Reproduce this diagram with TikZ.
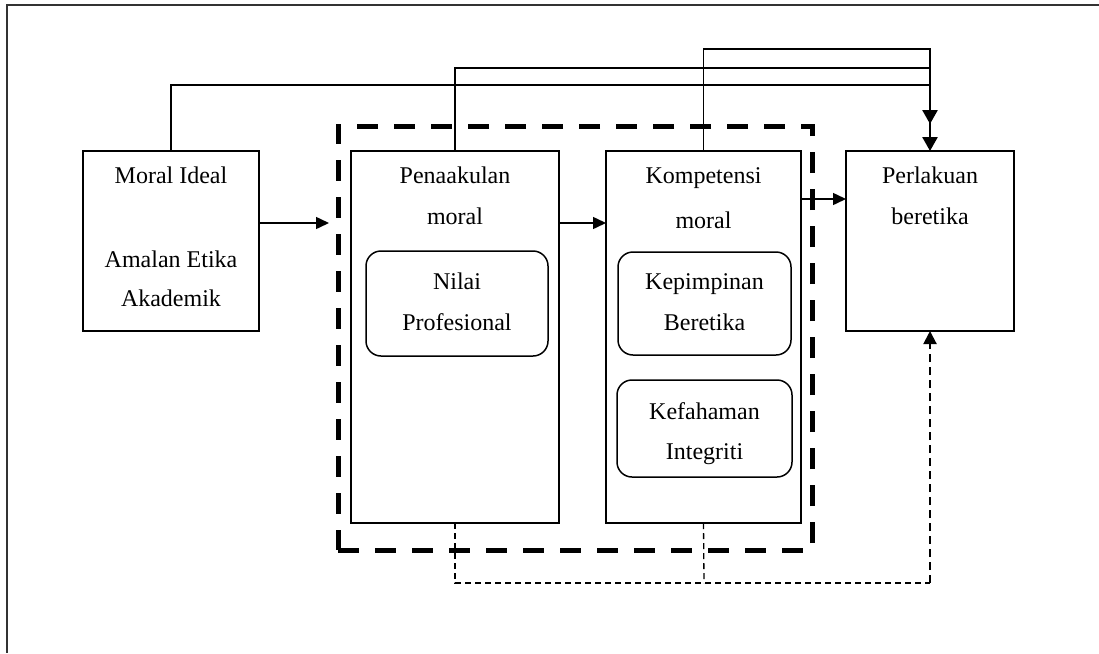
\documentclass[tikz,border=0pt]{standalone}
\usepackage{fontspec}
\setmainfont{Liberation Serif}
\usetikzlibrary{arrows.meta}
\begin{document}
\begin{tikzpicture}[x=1pt,y=-1pt,
  box/.style={draw,line width=1.5pt,rectangle,inner sep=0pt,outer sep=0pt},
  rbox/.style={box,rounded corners=15pt},
  lbl/.style={inner sep=0pt,anchor=base,font=\fontsize{24}{28}\selectfont},
  link/.style={line width=1.5pt},
  arr/.style={link,-{Triangle[length=13pt,width=12pt]}},
  bigarr/.style={line width=2.6pt,-{Triangle[length=14pt,width=15pt]}},
  fb/.style={line width=1.3pt,dash pattern=on 6pt off 4pt},
  fbarr/.style={line width=2pt,dash pattern=on 8pt off 5pt,-{Triangle[length=13pt,width=13pt]}},
  group/.style={draw,line width=5pt,dash pattern=on 21pt off 16pt,inner sep=0pt,outer sep=0pt},
]
\useasboundingbox (0,0) rectangle (1099,653);
% page frame
\draw[line width=1.3pt,black!80] (1099,5) -- (7,5) -- (7,653);

% dashed group around the two middle stages
\node[group,minimum width=474pt,minimum height=424pt] (grp) at (575,338) {};

% main boxes
\node[box,minimum width=176pt,minimum height=180pt] (mi) at (171,241) {};
\node[box,minimum width=208pt,minimum height=372pt] (pm) at (455,337) {};
\node[box,minimum width=195pt,minimum height=372pt] (km) at (703.5,337) {};
\node[box,minimum width=168pt,minimum height=180pt] (pl) at (930,241) {};

% inner rounded boxes
\node[rbox,minimum width=182pt,minimum height=105pt] (np) at (457,303.5) {};
\node[rbox,minimum width=173pt,minimum height=103pt] (kb) at (704.5,303.5) {};
\node[rbox,minimum width=175pt,minimum height=97pt] (ki) at (704.5,428.5) {};

% texts
\node[lbl] (mi1) at (171,183) {Moral Ideal};
\node[lbl] (mi2) at (171,267) {Amalan Etika};
\node[lbl] (mi3) at (171,306) {Akademik};
\node[lbl] (pm1) at (455,183) {Penaakulan};
\node[lbl] (pm2) at (455,224) {moral};
\node[lbl] (np1) at (457,289) {Nilai};
\node[lbl] (np2) at (457,330) {Profesional};
\node[lbl] (km1) at (703.5,183) {Kompetensi};
\node[lbl] (km2) at (703.5,228) {moral};
\node[lbl] (kb1) at (704.5,289) {Kepimpinan};
\node[lbl] (kb2) at (704.5,330) {Beretika};
\node[lbl] (ki1) at (704.5,419) {Kefahaman};
\node[lbl] (ki2) at (704.5,459) {Integriti};
\node[lbl] (pl1) at (930,183) {Perlakuan};
\node[lbl] (pl2) at (930,224) {beretika};

% helper coordinates
\coordinate (ya) at (0,223);
\coordinate (yb) at (0,199);
\coordinate (jA) at (930,85);
\coordinate (jB) at (930,68);
\coordinate (jC) at (930,49);
\coordinate (fbA) at (455,583);
\coordinate (fbB) at (704,583);
\coordinate (fbC) at (930,583);

% forward arrows
\draw[arr,shorten >=9pt] (mi.east |- ya) -- (grp.west |- ya);
\draw[arr] (pm.east |- ya) -- (km.west |- ya);
\draw[arr] (km.east |- yb) -- (pl.west |- yb);

% top feed lines into Perlakuan beretika
\draw[link] (mi.north -| mi1) |- (jA);
\draw[link] (pm.north) |- (jB) -- (jA);
\draw[link] (km.north) |- (jC) -- (jB);
\draw[bigarr,shorten >=27pt] (jA) -- (pl.north);
\draw[bigarr] (jA) -- (pl.north);

% dashed feedback lines
\draw[fb] (pm.south) -- (fbA) -- (fbC);
\draw[fb] (km.south) -- (fbB);
\draw[fbarr] (fbC) -- (pl.south);
\end{tikzpicture}
\end{document}
